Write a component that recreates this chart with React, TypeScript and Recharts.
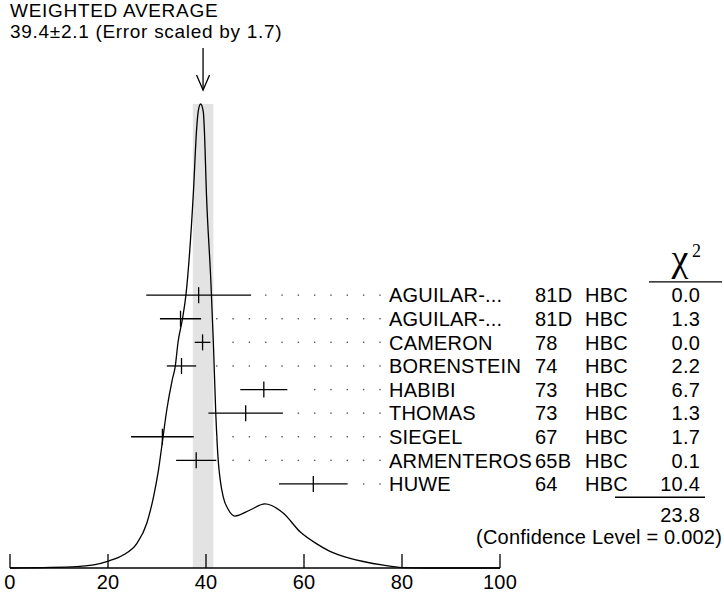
import React from 'react';
import { ComposedChart, XAxis, YAxis, Line, Scatter, ErrorBar, ReferenceArea } from 'recharts';

// ---- data ----
const authors = ['AGUILAR-...', 'AGUILAR-...', 'CAMERON', 'BORENSTEIN', 'HABIBI', 'THOMAS', 'SIEGEL', 'ARMENTEROS', 'HUWE'];
const years = ['81D', '81D', '78', '74', '73', '73', '67', '65B', '64'];
const techniques = ['HBC', 'HBC', 'HBC', 'HBC', 'HBC', 'HBC', 'HBC', 'HBC', 'HBC'];
const values = [38.5, 34.8, 39.3, 35.0, 51.8, 48.1, 31.1, 38.0, 61.9];
const errors = [10.7, 4.2, 1.6, 3.0, 4.8, 7.6, 6.4, 4.1, 7.0];
const chi2 = ['0.0', '1.3', '0.0', '2.2', '6.7', '1.3', '1.7', '0.1', '10.4'];
const chi2Total = '23.8';
const confidenceLevel = '0.002';
const weightedMean = 39.4;
const weightedError = 2.1;
const errorScale = 1.7;
const xTicks = [0, 20, 40, 60, 80, 100];

const curveX = [0, 6.8, 13.6, 20.1, 23.1, 25.9, 27.9, 29.3, 30.3, 31.2, 32.0, 33.1, 33.7, 34.3, 35.2, 35.9, 37.4, 38.1, 38.4, 38.9, 39.45, 39.65, 40.1, 41.0, 41.5, 42.0, 42.5, 42.9, 43.5, 44.6, 45.9, 49.0, 52.0, 55.8, 59.2, 62.6, 65.3, 69.4, 72.1, 76.2, 80.0, 85.0, 100];
const curveY = [0, 0.001, 0.003, 0.015, 0.028, 0.053, 0.096, 0.154, 0.211, 0.28, 0.341, 0.405, 0.433, 0.487, 0.537, 0.588, 0.804, 0.948, 0.983, 1.0, 0.983, 0.948, 0.804, 0.616, 0.487, 0.332, 0.231, 0.19, 0.154, 0.125, 0.112, 0.125, 0.138, 0.118, 0.078, 0.052, 0.036, 0.021, 0.014, 0.006, 0.001, 0, 0];

// ---- layout / style constants ----
const FONT = '"Liberation Sans", Arial, Helvetica, sans-serif';
const SERIF = '"Liberation Serif", "Times New Roman", serif';
const FS = 20;
const DENS_MAX = 1.0474;
const ROWS_DOMAIN: [number, number] = [-9.03, 11.56];
const LEADER_START = 42.2;
const LEADER_STEP = 3.33;
const LEADER_COUNT = 11;
const LEADER_GAP = 2.45;
const LABEL_ANCHOR_X = 100;

const curveData = curveX.map((x, i) => ({ x, d: curveY[i] }));
const measData = values.map((v, i) => ({ x: v, row: i, err: errors[i] }));
const dotData: { x: number; row: number }[] = [];
values.forEach((v, i) => {
  const end = v + errors[i];
  for (let k = 0; k < LEADER_COUNT; k++) {
    const g = LEADER_START + k * LEADER_STEP;
    if (g > end + LEADER_GAP) dotData.push({ x: g, row: i });
  }
});
const labelData = authors.map((a, i) => ({ x: LABEL_ANCHOR_X, row: i }));
const arrowData = [{ x: weightedMean, d: 1.03 }];
const titleData = [{ x: 0, d: DENS_MAX }];

const textStyle = { fontFamily: FONT, fontSize: FS, fill: '#000', letterSpacing: 0.2 };
const titleStyle = { fontFamily: FONT, fontSize: 19, fill: '#000', letterSpacing: 0.7 };

const XTick = (props: any) => {
  const { x, y, payload } = props;
  return (
    <g>
      <line x1={x} x2={x} y1={y} y2={y - 14} stroke="#000" strokeWidth={1.3} />
      <text x={x} y={y + 21} textAnchor="middle" {...textStyle}>{payload.value}</text>
    </g>
  );
};

const MeasShape = (props: any) => {
  const { cx, cy } = props;
  return <line x1={cx} x2={cx} y1={cy - 8} y2={cy + 8} stroke="#000" strokeWidth={1.3} />;
};

const DotShape = (props: any) => {
  const { cx, cy } = props;
  return <rect x={cx - 0.7} y={cy - 0.7} width={1.4} height={1.4} fill="#555" />;
};

const LabelShape = (props: any) => {
  const { cx, cy, payload } = props;
  const i = payload.row;
  const base = cy + 7.3;
  return (
    <g>
      <text x={cx - 111} y={base} {...textStyle}>{authors[i]}</text>
      <text x={cx + 35} y={base} {...textStyle}>{years[i]}</text>
      <text x={cx + 85} y={base} {...textStyle}>{techniques[i]}</text>
      <text x={cx + 200} y={base} textAnchor="end" {...textStyle}>{chi2[i]}</text>
      {i === 0 && (
        <g>
          <text x={cx + 180} y={cy - 24} textAnchor="middle" fontFamily={SERIF} fontSize={38} fill="#000">χ</text>
          <text x={cx + 192} y={cy - 38} fontFamily={SERIF} fontSize={18} fill="#000">2</text>
          <line x1={cx + 149} x2={cx + 222} y1={cy - 13.3} y2={cy - 13.3} stroke="#000" strokeWidth={1.3} />
        </g>
      )}
      {i === authors.length - 1 && (
        <g>
          <line x1={cx + 115} x2={cx + 205} y1={cy + 13.3} y2={cy + 13.3} stroke="#000" strokeWidth={1.3} />
          <text x={cx + 200} y={cy + 38} textAnchor="end" {...textStyle}>{chi2Total}</text>
          <text x={cx + 222} y={cy + 60} textAnchor="end" {...textStyle}>{`(Confidence Level = ${confidenceLevel})`}</text>
        </g>
      )}
    </g>
  );
};

const ArrowShape = (props: any) => {
  const { cx, cy } = props;
  return (
    <g stroke="#000" strokeWidth={1.3} fill="none">
      <line x1={cx} x2={cx} y1={cy - 42} y2={cy} />
      <polyline points={`${cx - 6.5},${cy - 15} ${cx},${cy} ${cx + 6.5},${cy - 15}`} />
    </g>
  );
};

const TitleShape = (props: any) => {
  const { cx, cy } = props;
  return (
    <g>
      <text x={cx} y={cy - 65} {...titleStyle}>WEIGHTED AVERAGE</text>
      <text x={cx} y={cy - 44} {...titleStyle}>{`${weightedMean}±${weightedError} (Error scaled by ${errorScale})`}</text>
    </g>
  );
};

export default function App() {
  return (
    <div style={{ position: 'absolute', left: 0, top: 0, width: 724, height: 602, background: '#fff' }}>
      <ComposedChart width={724} height={602} margin={{ top: 82, right: 224, bottom: 4, left: 10 }}>
        <XAxis
          dataKey="x"
          type="number"
          domain={[0, 100]}
          ticks={xTicks}
          interval={0}
          tickLine={false}
          tickSize={0}
          tickMargin={0}
          tick={<XTick />}
          axisLine={{ stroke: '#000', strokeWidth: 1.5 }}
          height={30}
        />
        <YAxis
          yAxisId="dens"
          dataKey="d"
          type="number"
          domain={[0, DENS_MAX]}
          width={0}
          tick={false}
          tickLine={false}
          axisLine={{ stroke: '#000', strokeWidth: 1.5 }}
        />
        <YAxis yAxisId="rows" dataKey="row" type="number" domain={ROWS_DOMAIN} reversed hide />
        <ReferenceArea
          yAxisId="dens"
          x1={weightedMean - weightedError}
          x2={weightedMean + weightedError}
          y1={0}
          y2={1.0}
          fill="#e3e3e3"
          fillOpacity={1}
          stroke="none"
        />
        <Line
          yAxisId="dens"
          data={curveData}
          dataKey="d"
          type="monotone"
          stroke="#000"
          strokeWidth={1.3}
          dot={false}
          activeDot={false}
          isAnimationActive={false}
        />
        <Scatter yAxisId="rows" data={dotData} shape={<DotShape />} isAnimationActive={false} />
        <Scatter yAxisId="rows" data={measData} shape={<MeasShape />} isAnimationActive={false}>
          <ErrorBar dataKey="err" direction="x" width={0} stroke="#000" strokeWidth={1.3} isAnimationActive={false} />
        </Scatter>
        <Scatter yAxisId="rows" data={labelData} shape={<LabelShape />} isAnimationActive={false} />
        <Scatter yAxisId="dens" data={arrowData} shape={<ArrowShape />} isAnimationActive={false} />
        <Scatter yAxisId="dens" data={titleData} shape={<TitleShape />} isAnimationActive={false} />
      </ComposedChart>
    </div>
  );
}
